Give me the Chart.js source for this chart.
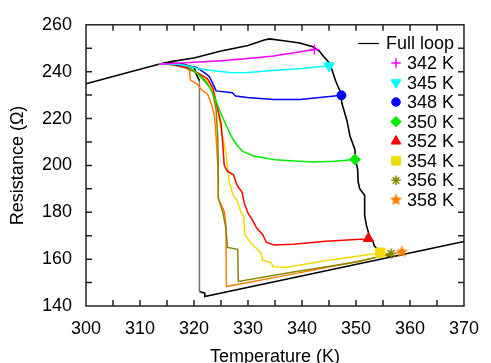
<!DOCTYPE html>
<html>
<head>
<meta charset="utf-8">
<script src="https://cdn.jsdelivr.net/npm/chart.js"></script>
<style>
  body { margin: 0; background: #fff; }
  canvas { display: block; }
</style>
</head>
<body>
<canvas id="myChart" width="491" height="363"></canvas>
<script>
// full hysteresis loop (heating on top branch, cooling back along the bottom)
const fullLoopT = [300, 305, 310, 313.5, 316, 320, 325, 330, 333, 334, 336.6, 339.6, 342, 343.2, 344, 345, 345.6, 346.2, 347.1, 347.4, 348.3, 348.9, 349.8, 349.9, 350.3, 350.4, 350.7, 351.6, 351.6, 351.9, 352.5, 353.1, 353.4, 354.3, 355.2, 356.4, 360, 370, 322, 322, 321, 321, 320.4, 320, 318, 315];
const fullLoopR = [234.8, 237.9, 241.0, 243.2, 244.4, 245.8, 248.8, 251.2, 253.5, 254.0, 253.2, 252.2, 250.6, 248.8, 246.5, 243.9, 240.5, 236.2, 231.3, 226.4, 219.4, 212.4, 206.8, 202.6, 198.4, 192.9, 190.0, 187.3, 178.9, 174.7, 169.8, 167.7, 165.6, 163.5, 162.1, 160.8, 162.6, 167.5, 144.0, 145.5, 146.2, 236.2, 239.0, 241.8, 243.3, 243.8];

// minor loops, starting at the turning point (marker) and cooling back
const t342 = [342.3, 338, 334.7, 330, 325, 320, 316, 313.5];
const r342 = [249.5, 247.9, 246.7, 245.6, 244.7, 244.0, 243.5, 243.2];

const t345 = [345, 340, 335, 330, 327, 324, 321, 319, 317, 313.5];
const r345 = [242.5, 241.4, 240.6, 239.6, 239.5, 240.3, 241.2, 242.4, 243.2, 243.3];

const t348 = [347.3, 345.6, 339.6, 334.7, 329.9, 327.7, 327.1, 324.1, 323.5, 322.9, 322.3, 320.5, 318.7, 315, 313.5];
const r348 = [229.9, 229.5, 228.1, 228.1, 229.0, 229.6, 231.0, 231.8, 234.8, 237.6, 239.0, 241.8, 242.5, 243.4, 243.3];

const t350 = [349.8, 346, 342, 338, 335, 331, 329, 328, 327, 326, 325, 324, 323, 321.7, 320.5, 318.7, 316.9, 313.5];
const r350 = [202.5, 201.8, 201.4, 202.0, 202.4, 204.0, 206.0, 208.5, 212.0, 217.0, 222.0, 228.0, 233.0, 236.5, 239.5, 242.5, 243.2, 243.3];

const t352 = [352.3, 351.6, 344.4, 338.4, 334.8, 333.4, 332.7, 331.6, 331, 330, 329.3, 328.9, 328, 327.3, 326.2, 325.6, 325.3, 325, 324.2, 323.5, 322.5, 321, 319, 316, 313.5];
const r352 = [168.8, 168.6, 167.6, 166.3, 166.0, 167.2, 170.5, 173.3, 176.0, 179.6, 184.0, 188.5, 191.5, 196.0, 197.5, 200.0, 210.0, 218.0, 226.0, 233.0, 237.0, 239.0, 241.5, 243.2, 243.3];

const t354 = [354.5, 353.4, 344, 337, 334.6, 334.3, 332.7, 332.4, 330.7, 329.4, 329.2, 328.7, 328, 327.2, 326.6, 326.3, 326, 325.5, 324.8, 324.2, 323.5, 322.5, 321, 319, 316, 313.5];
const r354 = [162.8, 162.3, 159.2, 156.4, 156.8, 158.5, 159.5, 162.8, 166.3, 170.5, 178.0, 180.0, 185.0, 187.5, 192.5, 197.0, 204.0, 210.0, 218.0, 226.0, 232.0, 236.5, 239.0, 241.5, 243.2, 243.3];

const t356 = [356.5, 350.4, 338.4, 328.2, 328.1, 326.2, 325.9, 325.3, 324.5, 324.5, 324.4, 324.1, 323.5, 322.5, 321.5, 320, 318, 315, 313.5];
const r356 = [162.4, 158.9, 154.5, 150.5, 164.2, 165.0, 173.3, 180.3, 186.0, 200.0, 212.0, 223.6, 230.6, 235.0, 238.0, 240.0, 242.0, 243.3, 243.3];

const t358 = [358.5, 350, 338, 326, 325.9, 325.6, 324.5, 324.4, 324.1, 323.8, 323.2, 322.5, 321.5, 320.5, 319.3, 319.2, 318.6, 316, 313.5];
const r358 = [163.1, 158.9, 153.5, 148.3, 175.0, 180.3, 186.0, 200.0, 212.0, 221.0, 226.4, 230.5, 232.0, 234.8, 236.5, 240.0, 242.5, 243.0, 243.3];

const xTicks = [300, 310, 320, 330, 340, 350, 360, 370];
const yTicks = [140, 160, 180, 200, 220, 240, 260];

// filled five point star for the 358 K curve
function makeStar(color, r) {
    const c = document.createElement('canvas');
    c.width = c.height = Math.ceil(r * 2 + 2);
    const g = c.getContext('2d');
    const cx = c.width / 2, cy = c.height / 2;
    g.beginPath();
    for (let i = 0; i < 10; i++) {
        const a = -Math.PI / 2 + i * Math.PI / 5;
        const rr = i % 2 === 0 ? r : r * 0.45;
        g.lineTo(cx + Math.cos(a) * rr, cy + Math.sin(a) * rr);
    }
    g.closePath();
    g.fillStyle = color;
    g.fill();
    return c;
}
const orangeStar = makeStar('#ff7f00', 6.5);

const pts = (t, r) => t.map((v, i) => ({x: v, y: r[i]}));

const loops = [
    {label: '342 K', t: t342, r: r342, color: '#ff00ff', style: 'cross', rot: 0, rad: 5, bw: 1.5},
    {label: '345 K', t: t345, r: r345, color: '#00ffff', style: 'triangle', rot: 180, rad: 6, bw: 1},
    {label: '348 K', t: t348, r: r348, color: '#0000ff', style: 'circle', rot: 0, rad: 4.5, bw: 1},
    {label: '350 K', t: t350, r: r350, color: '#00ee00', style: 'rectRot', rot: 0, rad: 5.5, bw: 1},
    {label: '352 K', t: t352, r: r352, color: '#ff0000', style: 'triangle', rot: 0, rad: 6, bw: 1},
    {label: '354 K', t: t354, r: r354, color: '#f2dc00', style: 'rect', rot: 0, rad: 6.5, bw: 1},
    {label: '356 K', t: t356, r: r356, color: '#888800', style: 'star', rot: 0, rad: 5, bw: 1.5},
    {label: '358 K', t: t358, r: r358, color: '#ff7f00', style: orangeStar, rot: 0, rad: 6.5, bw: 1}
];

const datasets = loops.map(l => ({
    label: l.label,
    data: pts(l.t, l.r),
    borderColor: l.color,
    backgroundColor: l.color,
    borderWidth: 1.5,
    pointStyle: l.style,
    pointRotation: l.rot,
    pointRadius: ctx => ctx.dataIndex === 0 ? l.rad : 0,
    pointBorderWidth: l.bw,
    pointBackgroundColor: l.color,
    pointBorderColor: l.color,
    showLine: true,
    tension: 0
}));

datasets.push({
    label: 'Full loop',
    data: pts(fullLoopT, fullLoopR),
    borderColor: '#000',
    borderWidth: 1.6,
    pointRadius: 0,
    showLine: true,
    tension: 0,
    segment: {
        borderColor: ctx => (ctx.p0.parsed.x === 321 && ctx.p1.parsed.x === 321) ? '#7a7a7a' : undefined
    }
});

// frame, inward ticks on all four sides, and the legend inside the plot
const framePlugin = {
    id: 'frame',
    afterDatasetsDraw(chart) {
        const {ctx, chartArea: a, scales: {x, y}} = chart;
        ctx.save();
        ctx.strokeStyle = '#222';
        ctx.lineWidth = 1.5;
        ctx.beginPath();
        for (let v = 305; v < 370; v += 5) {
            const px = x.getPixelForValue(v);
            ctx.moveTo(px, a.bottom); ctx.lineTo(px, a.bottom - 6);
            ctx.moveTo(px, a.top); ctx.lineTo(px, a.top + 6);
        }
        for (let v = 150; v < 260; v += 10) {
            const py = y.getPixelForValue(v);
            ctx.moveTo(a.left, py); ctx.lineTo(a.left + 6, py);
            ctx.moveTo(a.right, py); ctx.lineTo(a.right - 6, py);
        }
        ctx.stroke();
        ctx.strokeRect(a.left, a.top, a.right - a.left, a.bottom - a.top);

        // legend
        ctx.font = '18px "Liberation Sans", Arial, sans-serif';
        ctx.textBaseline = 'middle';
        ctx.fillStyle = '#000';
        ctx.textAlign = 'left';
        let rowY = 43.5;
        ctx.strokeStyle = '#000';
        ctx.lineWidth = 1.2;
        ctx.beginPath();
        ctx.moveTo(358, rowY); ctx.lineTo(379, rowY);
        ctx.stroke();
        ctx.fillText('Full loop', 386, rowY + 1);
        loops.forEach((l, i) => {
            const yy = 63 + i * 19.55;
            ctx.fillStyle = l.color;
            ctx.strokeStyle = l.color;
            ctx.lineWidth = l.bw;
            Chart.helpers.drawPoint(ctx, {pointStyle: l.style, rotation: l.rot, radius: l.rad * 0.95, borderWidth: l.bw}, 396, yy);
            ctx.fillStyle = '#000';
            ctx.fillText(l.label, 407, yy + 1);
        });
        ctx.restore();
    }
};

const fontFam = '"Liberation Sans", Arial, sans-serif';

new Chart(document.getElementById('myChart').getContext('2d'), {
    type: 'scatter',
    data: {datasets: datasets},
    options: {
        responsive: false,
        animation: false,
        layout: {padding: {top: 20, right: 15, left: 0, bottom: 0}},
        plugins: {legend: {display: false}, tooltip: {enabled: false}},
        scales: {
            x: {
                type: 'linear',
                min: 300, max: 370,
                afterBuildTicks: s => { s.ticks = xTicks.map(v => ({value: v})); },
                afterFit: s => { s.height = 57; },
                grid: {display: false, drawTicks: false},
                border: {display: false},
                ticks: {color: '#000', padding: 12, font: {family: fontFam, size: 18}},
                title: {display: true, text: 'Temperature (K)', color: '#000', font: {family: fontFam, size: 18}, padding: {top: 0, bottom: -5}}
            },
            y: {
                min: 140, max: 260,
                afterBuildTicks: s => { s.ticks = yTicks.map(v => ({value: v})); },
                afterFit: s => { s.width = 86; },
                grid: {display: false, drawTicks: false},
                border: {display: false},
                ticks: {color: '#000', padding: 14, font: {family: fontFam, size: 18}},
                title: {display: true, text: 'Resistance (Ω)', color: '#000', font: {family: fontFam, size: 18}, padding: {top: 7, bottom: 0}}
            }
        }
    },
    plugins: [framePlugin]
});
</script>
</body>
</html>
